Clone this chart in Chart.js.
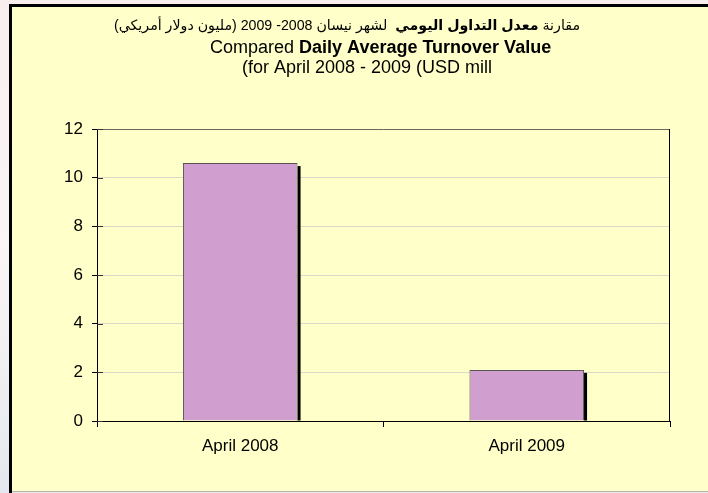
<!DOCTYPE html>
<html><head><meta charset="utf-8">
<script src="https://cdn.jsdelivr.net/npm/chart.js@4"></script>
<style>html,body{margin:0;padding:0;background:#fff}canvas{display:block}</style>
</head><body>
<canvas id="c" width="708" height="493" style="width:708px;height:493px"></canvas>
<script>
const categories = ['April 2008', 'April 2009'];
const turnoverValues = [10.6, 2.1];
const yTickValues = [0, 2, 4, 6, 8, 10, 12];
const titleLine1 = [['مقارنة ', false], ['معدل التداول اليومي', true], ['  لشهر نيسان 2008- 2009 (مليون دولار أمريكي)', false]];
const titleLine2 = [['Compared ', false], ['Daily Average Turnover Value', true]];
const titleLine3 = [['(for April 2008 - 2009 (USD mill', false]];

const FONT = '"Liberation Sans", Arial, "DejaVu Sans", sans-serif';
const YELLOW = '#FFFFC9';

const bgPlugin = {
  id: 'bg',
  beforeDraw(chart) {
    const ctx = chart.ctx;
    ctx.save();
    const g = ctx.createLinearGradient(0, 0, 0, 493);
    g.addColorStop(0, '#f8eeee');
    g.addColorStop(0.5, '#fbf5f5');
    g.addColorStop(1, '#e4e8ee');
    ctx.fillStyle = g;
    ctx.fillRect(0, 0, 708, 493);
    ctx.fillStyle = YELLOW;
    ctx.fillRect(11, 7, 697, 485);
    ctx.fillStyle = '#000';
    ctx.fillRect(9, 4, 699, 3);
    ctx.fillRect(9, 4, 3, 489);
    ctx.fillStyle = '#b8b8a8';
    ctx.fillRect(12, 491, 696, 1);
    // titles
    ctx.fillStyle = '#000';
    ctx.textBaseline = 'alphabetic';
    let x = 580;
    ctx.direction = 'rtl';
    ctx.textAlign = 'right';
    for (const [t, b] of titleLine1) {
      ctx.font = (b ? 'bold ' : '') + '14.2px ' + FONT;
      ctx.fillText(t, x, 30);
      x -= ctx.measureText(t).width;
    }
    ctx.direction = 'ltr';
    ctx.textAlign = 'left';
    x = 210;
    for (const [t, b] of titleLine2) {
      ctx.font = (b ? 'bold ' : '') + '18px ' + FONT;
      ctx.fillText(t, x, 53);
      x += ctx.measureText(t).width;
    }
    x = 242;
    for (const [t, b] of titleLine3) {
      ctx.font = (b ? 'bold ' : '') + '18px ' + FONT;
      ctx.fillText(t, x, 73);
      x += ctx.measureText(t).width;
    }
    ctx.restore();
  },
  beforeDatasetsDraw(chart) {
    const ctx = chart.ctx;
    const meta = chart.getDatasetMeta(0);
    ctx.save();
    ctx.fillStyle = '#000';
    meta.data.forEach(b => {
      const right = b.x + b.width / 2;
      ctx.fillRect(right, b.y + 3, 3, b.base - b.y - 3);
    });
    ctx.restore();
  },
  afterDraw(chart) {
    const a = chart.chartArea;
    const ctx = chart.ctx;
    ctx.save();
    ctx.lineWidth = 1;
    ctx.strokeStyle = '#6a6a5a';
    ctx.beginPath();
    ctx.moveTo(a.left, a.top + 0.5);
    ctx.lineTo(a.right, a.top + 0.5);
    ctx.stroke();
    ctx.strokeStyle = '#000';
    ctx.beginPath();
    ctx.moveTo(a.right - 0.5, a.top);
    ctx.lineTo(a.right - 0.5, a.bottom);
    ctx.stroke();
    // inner half of cross tick marks on value axis
    const ys = chart.scales.y;
    ctx.strokeStyle = '#333';
    ctx.beginPath();
    yTickValues.forEach(v => {
      const py = Math.round(ys.getPixelForValue(v)) + 0.5;
      ctx.moveTo(a.left, py);
      ctx.lineTo(a.left + 6, py);
    });
    ctx.stroke();
    ctx.restore();
  }
};

new Chart(document.getElementById('c'), {
  type: 'bar',
  data: {
    labels: categories,
    datasets: [{
      data: turnoverValues,
      backgroundColor: '#D09FD0',
      borderColor: '#555555',
      borderWidth: 1,
      borderSkipped: 'bottom',
      barPercentage: 0.4,
      categoryPercentage: 1.0
    }]
  },
  plugins: [bgPlugin],
  options: {
    responsive: false,
    devicePixelRatio: 1,
    animation: false,
    layout: { padding: { left: 40, right: 38, top: 129, bottom: 0 } },
    plugins: { legend: { display: false }, title: { display: false }, tooltip: { enabled: false } },
    scales: {
      x: {
        offset: true,
        grid: { offset: true, drawOnChartArea: false, color: '#000', tickLength: 6, tickColor: '#000' },
        border: { color: '#000', width: 1 },
        ticks: { color: '#000', font: { family: FONT, size: 17 }, padding: 9 },
        afterFit(s) { s.height = 72; }
      },
      y: {
        min: 0, max: 12,
        afterBuildTicks(s) { s.ticks = yTickValues.map(v => ({ value: v })); },
        grid: { color: '#d9d9c6', tickLength: 5, tickColor: '#000' },
        border: { color: '#000', width: 1 },
        ticks: { color: '#000', font: { family: FONT, size: 17 }, padding: 9 },
        afterFit(s) { s.width = 57; }
      }
    }
  }
});
</script>
</body></html>
